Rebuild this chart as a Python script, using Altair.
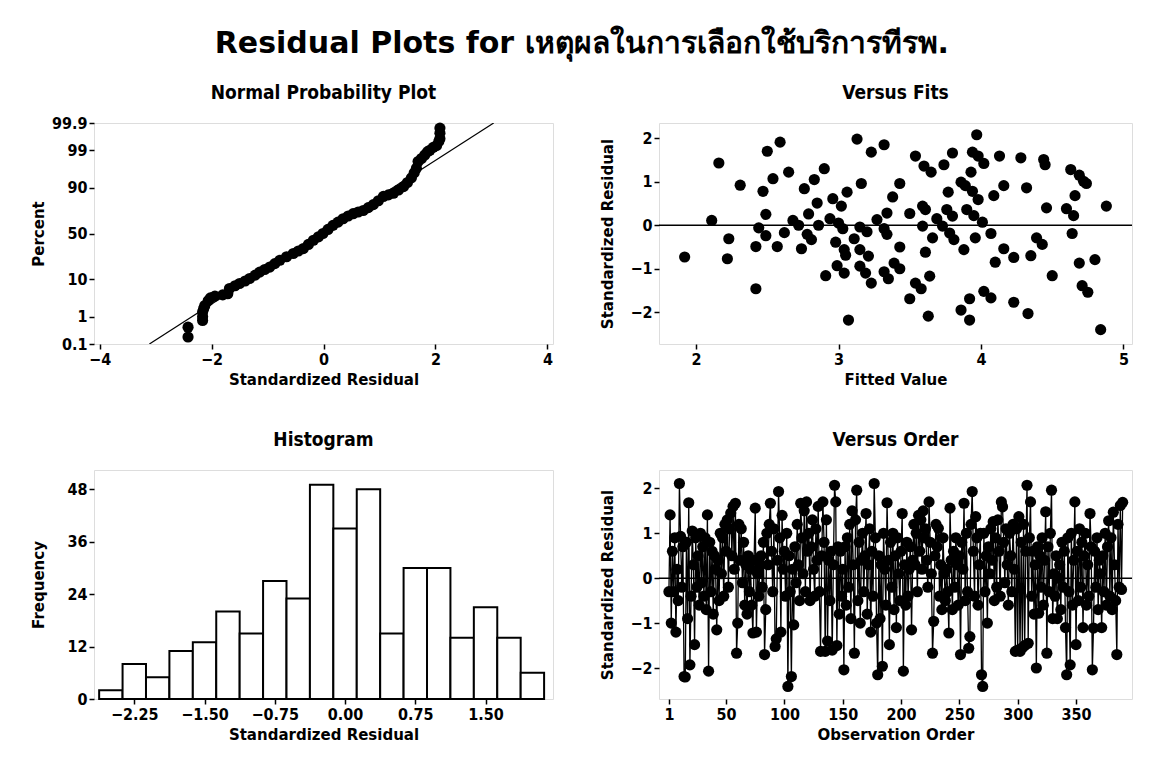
import altair as alt
import pandas as pd
from statistics import NormalDist

FONT = "DejaVu Sans"
CFONT = "DejaVu Sans Condensed"
MAIN_TITLE = "Residual Plots for เหตุผลในการเลือกใช้บริการทีรพ."

# ---------------- Histogram ----------------
hist_centers = [-2.5, -2.25, -2.0, -1.75, -1.5, -1.25, -1.0, -0.75, -0.5, -0.25,
                0.0, 0.25, 0.5, 0.75, 1.0, 1.25, 1.5, 1.75, 2.0]
hist_counts = [2, 8, 5, 11, 13, 20, 15, 27, 23, 49, 39, 48, 15, 30, 30, 14, 21, 14, 6]
hist_width = 0.25
hist_ticks = [-2.25, -1.50, -0.75, 0.00, 0.75, 1.50]
freq_ticks = [0, 12, 24, 36, 48]

# ---------------- Normal probability plot ----------------
npp_resid = [-2.42, -2.42, -2.16, -2.16, -2.16, -2.14, -2.12, -2.06, -2.02, -1.94,
             -1.80, -1.71, -1.68, -1.58, -1.50, -1.40, -1.32, -1.22, -1.14, -1.05,
             -0.96, -0.87, -0.78, -0.66, -0.54, -0.45, -0.36, -0.27, -0.18, -0.09,
             -0.01, 0.08, 0.17, 0.26, 0.35, 0.44, 0.53, 0.62, 0.71, 0.80,
             0.89, 0.98, 1.07, 1.16, 1.25, 1.34, 1.43, 1.50, 1.57, 1.62,
             1.66, 1.69, 1.75, 1.81, 1.86, 1.90, 1.96, 2.02, 2.06, 2.08, 2.08, 2.08]
npp_pct = [0.19, 0.44, 0.75, 1.0, 1.4, 1.8, 2.2, 3.0, 3.6, 4.0,
           4.3, 4.6, 6.2, 7.2, 8.1, 9.2, 10.4, 12.2, 14.0, 15.7,
           17.4, 20.0, 22.7, 25.8, 28.8, 31.2, 33.7, 38.0, 42.5, 46.3,
           50.0, 54.5, 59.0, 62.5, 66.0, 68.8, 71.0, 72.6, 74.0, 76.5,
           79.0, 82.0, 85.0, 86.0, 87.0, 88.8, 90.5, 92.3, 94.0, 95.5,
           96.6, 97.8, 98.2, 98.6, 98.9, 99.0, 99.2, 99.3, 99.5, 99.6, 99.75, 99.84]
npp_line_resid = [-3.11, 3.04]
npp_line_pct = [0.1, 99.9]
pct_ticks = [0.1, 1, 10, 50, 90, 99, 99.9]
pct_labels = ["0.1", "1", "10", "50", "90", "99", "99.9"]
npp_x_ticks = [-4, -2, 0, 2, 4]

# ---------------- Versus fits ----------------
fits_x = [1.92, 2.11, 2.16, 2.23, 2.22, 2.31, 2.42, 2.42, 2.44, 2.47,
          2.49, 2.50, 2.49, 2.54, 2.57, 2.59, 2.62, 2.65, 2.68, 2.72,
          2.74, 2.76, 2.79, 2.78, 2.81, 2.83, 2.85, 2.86, 2.90, 2.91,
          2.96, 2.94, 2.98, 2.99, 3.00, 3.02, 3.04, 3.03, 3.04, 3.05,
          3.06, 3.07, 3.11, 3.13, 3.16, 3.15, 3.15, 3.15, 3.20, 3.21,
          3.19, 3.23, 3.23, 3.27, 3.32, 3.32, 3.34, 3.34, 3.32, 3.35,
          3.38, 3.43, 3.43, 3.39, 3.43, 3.50, 3.50, 3.54, 3.54, 3.58,
          3.59, 3.59, 3.60, 3.61, 3.61, 3.64, 3.63, 3.65, 3.66, 3.69,
          3.73, 3.74, 3.77, 3.76, 3.78, 3.80, 3.80, 3.81, 3.86, 3.88,
          3.86, 3.89, 3.90, 3.93, 3.92, 3.92, 3.94, 3.94, 3.97, 3.95,
          3.96, 3.98, 3.98, 4.01, 4.02, 4.02, 4.07, 4.07, 4.09, 4.10,
          4.13, 4.16, 4.16, 4.23, 4.23, 4.28, 4.32, 4.33, 4.35, 4.39,
          4.43, 4.44, 4.45, 4.46, 4.50, 4.60, 4.63, 4.65, 4.64, 4.66,
          4.69, 4.69, 4.71, 4.72, 4.75, 4.74, 4.80, 4.84, 4.88]
fits_r = [-0.73, 0.11, 1.43, -0.31, -0.77, 0.92, -0.49, -1.46, -0.06, 0.78,
          0.25, 1.70, -0.24, 1.07, -0.49, 1.91, -0.17, 1.22, 0.11, 0.00,
          -0.54, 0.84, 0.26, -0.21, -0.33, 1.05, 0.51, 0.00, 1.30, -1.16,
          0.61, 0.15, -0.39, -0.93, 0.05, 0.44, -1.10, -0.08, -0.56, -0.69,
          0.76, -2.18, -0.31, 1.98, 0.96, -0.04, -0.56, -0.94, -0.15, -0.71,
          -1.10, 1.68, -1.33, 0.13, 1.85, -0.08, 0.28, -0.21, -1.07, -1.23,
          0.65, -0.50, 0.96, -0.87, -1.00, 0.27, -1.69, 1.59, -1.33, -1.46,
          -0.02, 0.44, 1.36, 0.36, -0.62, -1.17, -2.09, 1.22, -0.29, 0.15,
          -0.02, 1.39, 0.76, 0.36, -0.18, 1.66, 0.21, -0.33, -1.95, -0.56,
          0.99, 0.91, 0.36, 1.22, -1.69, -2.18, 0.78, 1.68, 2.08, 0.22,
          -0.29, 1.59, 0.59, 0.07, 1.42, -1.52, -1.67, -0.19, 0.68, -0.85,
          1.59, 0.91, -0.54, -0.74, -1.77, 1.55, 0.86, -2.03, -0.70, -0.29,
          -0.44, 1.51, 1.39, 0.40, -1.16, 0.38, 1.28, 0.22, -0.19, 0.68,
          -0.87, 1.15, -1.39, 1.01, -1.54, 0.96, -0.79, -2.40, 0.44]
fits_x_ticks = [2, 3, 4, 5]
resid_ticks = [-2, -1, 0, 1, 2]

# ---------------- Versus order ----------------
order_r = [
    -0.3, 1.41, -1.0, 0.6, -0.3, 0.9, -1.2, 0.2, -0.5, 2.11,
    0.93, -0.2, 0.7, -2.19, -2.2, 0.8, -0.9, 1.68, -1.93, -0.4,
    1.05, 0.3, -1.48, 0.9, -0.2, 0.5, -0.6, 1.0, -0.1, 0.7,
    -0.4, 0.9, -0.7, 1.41, -2.07, 0.8, -0.3, 0.6, -0.8, 0.5,
    0.2, -1.15, 0.4, -0.5, 1.0, 0.1, 0.9, -0.4, 1.2, 0.6,
    1.3, -0.2, 1.1, 1.45, 0.5, 1.6, 0.2, 1.67, -1.67, -1.0,
    1.2, 0.4, 1.1, -0.1, 0.8, -0.6, 0.3, -0.8, 0.5, -0.3,
    0.2, -0.6, -1.22, 0.4, 1.56, -1.2, 0.1, -0.4, 0.3, 0.5,
    -0.2, 0.8, -1.70, -0.7, 1.0, 0.3, 1.2, 1.67, 0.6, -0.3,
    1.1, -1.52, -1.35, 0.4, 1.93, 0.9, -1.2, 1.4, 0.2, 0.6,
    -0.4, 1.0, -2.41, 0.5, -0.3, -2.19, 0.2, -1.04, 0.7, -0.1,
    1.2, 0.3, -0.5, 1.67, 0.9, 0.1, 1.5, -0.3, 1.70, 0.6,
    1.0, -0.5, 0.7, 1.3, 0.2, -0.4, 1.1, 0.4, 1.6, -0.3,
    -1.63, 0.5, 1.7, 0.8, -1.63, 1.3, -1.4, 0.4, -0.5, 0.6,
    -1.6, 0.3, 2.07, 1.70, -1.5, 0.7, -0.8, 0.6, -0.4, 0.2,
    -2.04, 0.7, -0.6, 0.9, -0.2, 1.2, -0.9, 1.5, 0.3, -1.67,
    1.3, 1.96, -0.5, 0.8, -1.0, 0.4, 1.0, -0.3, 0.5, 1.44,
    -0.8, 0.3, 1.1, -1.2, 0.6, -0.4, 2.11, 0.9, -1.0, -2.15,
    0.5, -0.9, 0.3, -1.96, 1.0, 0.2, -0.6, 1.68, 0.4, -1.48,
    0.8, -0.2, 1.0, -0.7, 0.5, -1.1, 0.9, 0.1, -0.5, 0.6,
    1.44, -2.07, 0.3, -0.6, 0.8, -0.4, 0.2, 0.7, -1.15, 0.4,
    1.2, 0.3, 1.0, -0.3, 1.4, 0.6, 1.3, 0.2, 1.5, 0.9,
    1.1, 0.4, -0.2, 1.70, 0.8, 0.1, -1.67, -0.96, 0.5, 1.2,
    0.7, 1.11, -0.4, 0.3, -0.7, 0.9, 0.1, -0.5, 0.2, -0.3,
    -1.22, 1.56, 0.4, -0.7, 0.6, -0.2, 0.9, 0.3, -0.6, 0.5,
    -1.70, 0.8, 0.2, 1.67, -0.5, 1.0, -0.3, -1.56, -1.3, 1.2,
    1.93, 0.6, -0.4, 1.37, 0.9, -0.6, 0.3, 1.0, -2.15, -2.41,
    1.0, -0.3, 0.5, -1.0, 0.7, 0.1, 1.1, 0.4, 1.26, -0.5,
    0.9, -0.2, 1.3, 0.6, -0.4, 1.70, 1.59, 0.8, -0.1, 1.1,
    0.3, -0.6, 1.0, 0.5, -0.3, 1.2, 0.2, -1.63, 1.1, -1.6,
    1.37, -1.63, 0.8, -1.55, 1.2, -1.5, 0.6, 2.07, -1.45, 0.9,
    1.70, -0.4, 0.6, -0.8, 0.3, -2.0, 0.7, -0.78, 0.5, -0.2,
    0.9, -0.6, 0.4, 1.48, -1.67, 0.7, -0.3, 1.0, 1.96, -0.9,
    0.1, -0.4, 0.5, -0.9, 0.0, 0.3, -0.7, 0.8, -0.2, 0.6,
    -1.1, -2.15, 0.9, -0.3, -1.93, 1.0, -0.6, 0.4, 1.70, -1.48,
    0.6, -0.5, 1.1, -0.2, 0.8, -1.1, 0.5, 1.0, -0.6, 0.3,
    -0.4, 1.44, 0.7, -2.04, -1.11, 0.6, -0.2, 0.9, -0.7, 0.4,
    0.1, -1.1, 0.5, -0.3, 1.0, -0.6, 0.7, 1.28, -0.4, 0.9,
    -0.7, 1.47, 0.3, -0.5, -1.70, 1.2, -0.2, 1.62, -0.25, 1.69,
]
order_x_ticks = [1, 50, 100, 150, 200, 250, 300, 350]

# ---------------- helpers ----------------
nd = NormalDist()


def ax(title, values, extent=None, fmt=None, label_expr=None):
    kw = dict(title=title, values=values, domain=False, grid=False, ticks=True,
              tickColor="black", tickSize=5, tickWidth=1.5,
              labelFont=CFONT, labelFontSize=16, labelColor="black", labelPadding=2,
              labelFontWeight="bold",
              titleFont=FONT, titleFontSize=15, titleFontWeight="bold",
              titleColor="black")
    if extent is not None:
        kw["minExtent"] = extent
        kw["maxExtent"] = extent
        kw["titlePadding"] = 8
    else:
        kw["titlePadding"] = 5
    if fmt is not None:
        kw["format"] = fmt
    if label_expr is not None:
        kw["labelExpr"] = label_expr
    return alt.Axis(**kw)


def ptitle(text, offset=20):
    return alt.TitleParams(text, font=CFONT, fontSize=19, fontWeight="bold",
                           color="black", anchor="middle", offset=offset)


W1, W2 = 459, 473
H1, H2 = 221, 229
E1, E2 = 40, 36
PT = 125

# Normal probability plot
z_ticks = [nd.inv_cdf(p / 100) for p in pct_ticks]
npp_df = pd.DataFrame({"resid": npp_resid, "z": [nd.inv_cdf(p / 100) for p in npp_pct]})
line_df = pd.DataFrame({"resid": npp_line_resid, "z": [nd.inv_cdf(p / 100) for p in npp_line_pct]})
expr = "'" + pct_labels[-1] + "'"
for zt, lab in reversed(list(zip(z_ticks[:-1], pct_labels[:-1]))):
    expr = f"datum.value < {zt + 0.05:.4f} ? '{lab}' : " + expr

npp_x = alt.X("resid:Q", scale=alt.Scale(domain=[-4.1, 4.1], nice=False, zero=False),
              axis=ax("Standardized Residual", npp_x_ticks))
npp_y = alt.Y("z:Q", scale=alt.Scale(domain=[z_ticks[0], z_ticks[-1]], nice=False, zero=False),
              axis=ax("Percent", z_ticks, extent=E1, label_expr=expr))
npp_line = alt.Chart(line_df).mark_line(color="black", strokeWidth=1.2, clip=True).encode(x=npp_x, y=npp_y)
npp_pts = alt.Chart(npp_df).mark_circle(color="black", size=PT, opacity=1).encode(x=npp_x, y=npp_y)
npp = alt.layer(npp_line, npp_pts).properties(width=W1, height=H1,
                                              title=ptitle("Normal Probability Plot", offset=12))

# Versus fits
fits_df = pd.DataFrame({"fit": fits_x, "r": fits_r})
fx = alt.X("fit:Q", scale=alt.Scale(domain=[1.74, 5.06], nice=False, zero=False),
           axis=ax("Fitted Value", fits_x_ticks))
fy = alt.Y("r:Q", scale=alt.Scale(domain=[-2.73, 2.35], nice=False, zero=False),
           axis=ax("Standardized Residual", resid_ticks, extent=E2))
fits_pts = alt.Chart(fits_df).mark_circle(color="black", size=PT, opacity=1).encode(x=fx, y=fy)
fits_zero = alt.Chart(pd.DataFrame({"r": [0]})).mark_rule(color="black", strokeWidth=1.5).encode(y=alt.Y("r:Q"))
fits = alt.layer(fits_zero, fits_pts).properties(width=W2, height=H1, title=ptitle("Versus Fits"))

# Histogram
hist_df = pd.DataFrame({
    "lo": [c - hist_width / 2 for c in hist_centers],
    "hi": [c + hist_width / 2 for c in hist_centers],
    "n": hist_counts,
})
hx = alt.X("lo:Q", scale=alt.Scale(domain=[-2.68, 2.22], nice=False, zero=False),
           axis=ax("Standardized Residual", hist_ticks, fmt=".2f"))
hy = alt.Y("n:Q", scale=alt.Scale(domain=[0, 52.4], nice=False),
           axis=ax("Frequency", freq_ticks, extent=E1))
hist = alt.Chart(hist_df).mark_rect(fill="white", stroke="black", strokeWidth=2).encode(
    x=hx, x2="hi:Q", y=hy, y2=alt.datum(0)
).properties(width=W1, height=H2, title=ptitle("Histogram"))

# Versus order
order_df = pd.DataFrame({"obs": list(range(1, len(order_r) + 1)), "r": order_r})
ox = alt.X("obs:Q", scale=alt.Scale(domain=[-7.5, 398], nice=False, zero=False),
           axis=ax("Observation Order", order_x_ticks))
oy = alt.Y("r:Q", scale=alt.Scale(domain=[-2.69, 2.41], nice=False, zero=False),
           axis=ax("Standardized Residual", resid_ticks, extent=E2))
order_line = alt.Chart(order_df).mark_line(color="black", strokeWidth=1.3).encode(x=ox, y=oy)
order_pts = alt.Chart(order_df).mark_circle(color="black", size=PT, opacity=1).encode(x=ox, y=oy)
order_zero = alt.Chart(pd.DataFrame({"r": [0]})).mark_rule(color="black", strokeWidth=1.5).encode(y=alt.Y("r:Q"))
order = alt.layer(order_zero, order_line, order_pts).properties(width=W2, height=H2, title=ptitle("Versus Order"))

top = alt.hconcat(npp, fits, spacing=45)
bottom = alt.hconcat(hist, order, spacing=45)

chart = alt.vconcat(top, bottom, spacing=42).properties(
    title=alt.TitleParams(MAIN_TITLE, font=FONT, fontSize=30, fontWeight="bold",
                          color="black", anchor="middle", offset=25),
    padding={"left": 30, "top": 28, "right": 10, "bottom": 10},
).configure_view(stroke="black", strokeWidth=2).configure(background="white")

chart.save("out.html", embed_options={"renderer": "svg", "actions": False})
